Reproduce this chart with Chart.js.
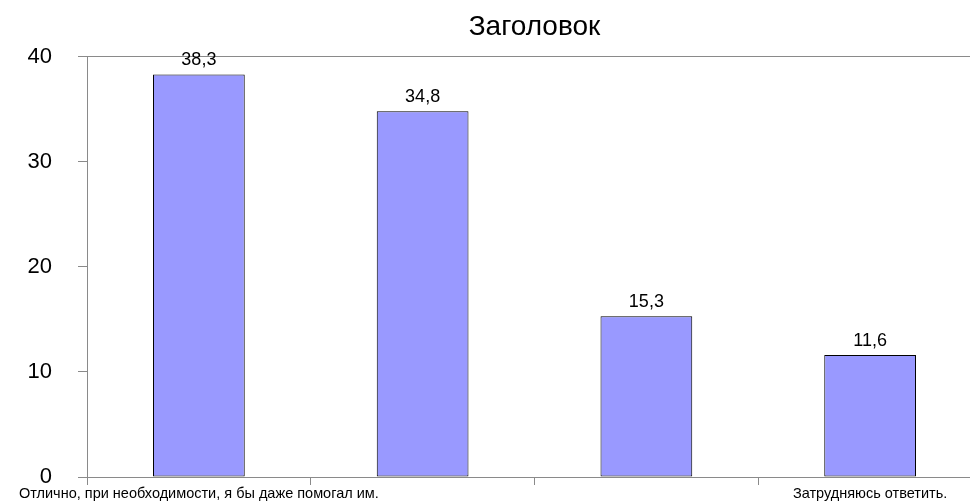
<!DOCTYPE html>
<html lang="ru">
<head>
<meta charset="utf-8">
<title>Заголовок</title>
<script src="https://cdn.jsdelivr.net/npm/chart.js@4/dist/chart.umd.min.js"></script>
<style>
  html, body { margin: 0; padding: 0; background: #fff; overflow: hidden; }
  #wrap { position: relative; width: 1000px; height: 502px; }
</style>
</head>
<body>
<div id="wrap"><canvas id="chart"></canvas></div>
<script>
// Survey answers and their shares, %
const categories = [
  'Отлично, при необходимости, я бы даже помогал им.',
  '',
  '',
  'Затрудняюсь ответить.'
];
const shares = [38.3, 34.8, 15.3, 11.6];
const yTicks = [0, 10, 20, 30, 40];

const FONT = '"Liberation Sans", Arial, Helvetica, sans-serif';
const AXIS_GRAY = '#8a8a8a';

// Writes each bar's value above it, with a decimal comma
const valueLabels = {
  id: 'valueLabels',
  afterDatasetsDraw(chart) {
    const { ctx } = chart;
    const meta = chart.getDatasetMeta(0);
    ctx.save();
    ctx.font = '18px ' + FONT;
    ctx.fillStyle = '#000';
    ctx.textAlign = 'center';
    ctx.textBaseline = 'alphabetic';
    meta.data.forEach((bar, i) => {
      const v = chart.data.datasets[0].data[i];
      ctx.fillText(String(v).replace('.', ','), bar.x, bar.y - 9);
    });
    ctx.restore();
  }
};

new Chart(document.getElementById('chart'), {
  type: 'bar',
  data: {
    labels: categories,
    datasets: [{
      data: shares,
      backgroundColor: '#9999ff',
      borderColor: '#000',
      borderWidth: 1,
      borderSkipped: false,
      categoryPercentage: 1,
      barPercentage: 0.41
    }]
  },
  options: {
    responsive: true,
    maintainAspectRatio: false,
    animation: false,
    layout: { padding: { left: 0, right: 18, top: 0, bottom: 0 } },
    plugins: {
      legend: { display: false },
      tooltip: { enabled: false },
      title: {
        display: true,
        text: 'Заголовок',
        fullSize: false,
        color: '#000',
        font: { family: FONT, size: 28, weight: 'normal' },
        padding: { top: 10, bottom: 13 }
      }
    },
    scales: {
      x: {
        offset: true,
        afterFit(scale) { scale.height = 25; },
        grid: {
          offset: true,
          drawOnChartArea: false,
          color: AXIS_GRAY,
          tickLength: 8
        },
        border: { color: AXIS_GRAY },
        ticks: {
          color: '#000',
          font: { family: FONT, size: 14.5 },
          padding: 0,
          maxRotation: 0,
          autoSkip: false
        }
      },
      y: {
        min: 0,
        max: 40,
        afterBuildTicks(scale) { scale.ticks = yTicks.map(v => ({ value: v })); },
        afterFit(scale) {
          // fixed axis band; the end labels may overhang the plot edges
          scale.width = 87;
          scale.paddingTop = 0;
          scale.paddingBottom = 0;
        },
        grid: {
          color: ctx => (ctx.tick && ctx.tick.value === 40 ? AXIS_GRAY : 'rgba(0,0,0,0)'),
          tickColor: AXIS_GRAY,
          tickLength: 9
        },
        border: { color: AXIS_GRAY },
        ticks: {
          color: '#000',
          font: { family: FONT, size: 22 },
          padding: 26
        }
      }
    }
  },
  plugins: [valueLabels]
});
</script>
</body>
</html>
